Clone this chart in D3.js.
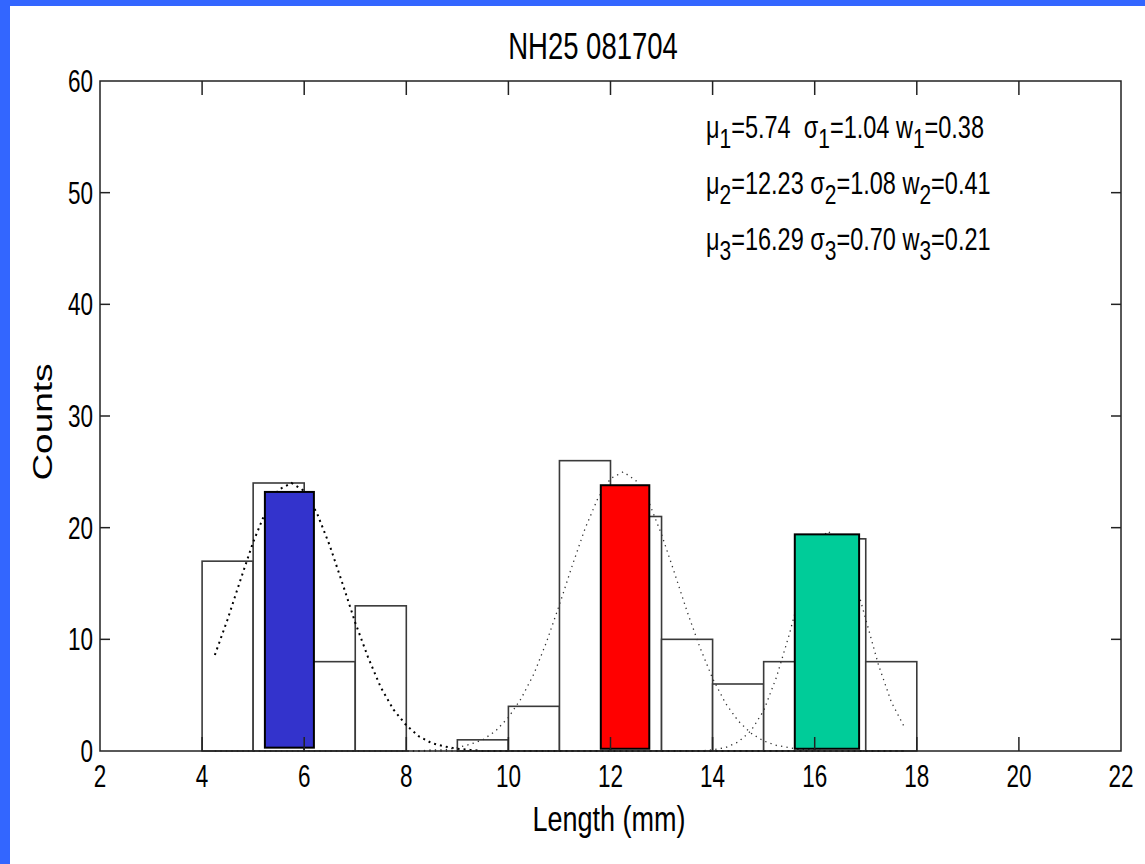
<!DOCTYPE html>
<html>
<head>
<meta charset="utf-8">
<script src="https://cdn.jsdelivr.net/npm/d3@7"></script>
<style>
  html, body { margin: 0; padding: 0; background: #fff; }
  svg { display: block; }
  text { font-family: "Liberation Sans", Arial, sans-serif; fill: #000; white-space: pre; }
</style>
</head>
<body>
<svg id="chart" width="1145" height="864"></svg>
<script>
// histogram of lengths
const binEdges = [4, 5, 6, 7, 8, 9, 10, 11, 12, 13, 14, 15, 16, 17, 18];
const counts = [17, 24, 8, 13, 0, 1, 4, 26, 21, 10, 6, 8, 19, 8];

// fitted component curves
const curveX = [4.25, 4.5, 4.75, 5, 5.25, 5.5, 5.75, 6, 6.25, 6.5, 6.75, 7, 7.25, 7.5, 7.75, 8,
  8.25, 8.5, 8.75, 9, 9.25, 9.5, 9.75, 10, 10.25, 10.5, 10.75, 11, 11.25, 11.5, 11.75, 12,
  12.25, 12.5, 12.75, 13, 13.25, 13.5, 13.75, 14, 14.25, 14.5, 14.75, 15, 15.25, 15.5, 15.75, 16,
  16.25, 16.5, 16.75, 17, 17.25, 17.5, 17.75];
const curve1 = [8.6, 11.8, 15.3, 18.7, 21.5, 23.4, 24.0, 23.3, 21.3, 18.4, 15.0, 11.5, 8.4, 5.7, 3.7, 2.3,
  1.3, 0.7, 0.4, 0.2, 0.1, 0, 0, 0, 0, 0, 0, 0, 0, 0, 0, 0,
  0, 0, 0, 0, 0, 0, 0, 0, 0, 0, 0, 0, 0, 0, 0, 0,
  0, 0, 0, 0, 0, 0, 0];
const curve2 = [0, 0, 0, 0, 0, 0, 0, 0, 0, 0, 0, 0, 0, 0, 0, 0,
  0, 0.1, 0.1, 0.3, 0.6, 1.0, 1.8, 3.0, 4.7, 6.9, 9.8, 13.1, 16.6, 19.9, 22.6, 24.4,
  25.0, 24.2, 22.3, 19.4, 16.0, 12.5, 9.3, 6.5, 4.3, 2.7, 1.6, 0.9, 0.5, 0.3, 0.1, 0.1,
  0, 0, 0, 0, 0, 0, 0];
const curve3 = [0, 0, 0, 0, 0, 0, 0, 0, 0, 0, 0, 0, 0, 0, 0, 0,
  0, 0, 0, 0, 0, 0, 0, 0, 0, 0, 0, 0, 0, 0, 0, 0,
  0, 0, 0, 0, 0, 0, 0, 0.1, 0.3, 0.8, 1.8, 3.6, 6.6, 10.4, 14.7, 18.1,
  19.7, 18.9, 15.9, 11.8, 7.7, 4.4, 2.2];

// component bars
const compLeft = [5.23, 11.81, 15.61];
const compRight = [6.19, 12.76, 16.87];
const compBase = [0.3, 0.2, 0.2];
const compTop = [23.2, 23.8, 19.4];

// fit parameters
const mus = ['5.74 ', '12.23', '16.29'];
const sigmas = ['1.04', '1.08', '0.70'];
const weights = ['0.38', '0.41', '0.21'];

const xTicks = [2, 4, 6, 8, 10, 12, 14, 16, 18, 20, 22];
const yTicks = [0, 10, 20, 30, 40, 50, 60];

const titleText = 'NH25 081704';
const xLabel = 'Length (mm)';
const yLabel = 'Counts';

const compColors = ['#3333cc', '#ff0000', '#00cc99'];

const svg = d3.select('#chart');
const plotLeft = 100;
const plotRight = 1121;
const plotTop = 81;
const plotBottom = 751;
const stretch = 1.37;

const x = d3.scaleLinear([2, 22], [plotLeft, plotRight]);
const y = d3.scaleLinear([0, 60], [plotBottom, plotTop]);

// blue slide frame
svg.append('rect').attr('x', 0).attr('y', 0).attr('width', 10).attr('height', 864).attr('fill', '#3366ff');
svg.append('rect').attr('x', 0).attr('y', 0).attr('width', 1145).attr('height', 6).attr('fill', '#3366ff');

// histogram bars
const bins = counts.map((c, i) => ({ x0: binEdges[i], x1: binEdges[i + 1], c }));
svg.append('g')
  .selectAll('rect')
  .data(bins.filter((d) => d.c > 0))
  .join('rect')
  .attr('x', (d) => x(d.x0))
  .attr('y', (d) => y(d.c))
  .attr('width', (d) => x(d.x1) - x(d.x0))
  .attr('height', (d) => y(0) - y(d.c))
  .attr('fill', '#fff')
  .attr('stroke', '#3a3a3a')
  .attr('stroke-width', 1.6);

// dotted component curves
const line = d3.line()
  .x((d) => x(d[0]))
  .y((d) => y(d[1]));
const curves = [curve1, curve2, curve3];
svg.append('g')
  .selectAll('path')
  .data(curves)
  .join('path')
  .attr('d', (vals) => line(vals.map((v, i) => [curveX[i], v])))
  .attr('fill', 'none')
  .attr('stroke', (d, i) => (i === 0 ? '#000' : '#333'))
  .attr('stroke-width', (d, i) => (i === 0 ? 2 : 1.3))
  .attr('stroke-dasharray', (d, i) => (i === 0 ? '2 4' : '1.3 4.2'));

// coloured component bars
svg.append('g')
  .selectAll('rect')
  .data(compLeft)
  .join('rect')
  .attr('x', (d) => x(d))
  .attr('y', (d, i) => y(compTop[i]))
  .attr('width', (d, i) => x(compRight[i]) - x(d))
  .attr('height', (d, i) => y(compBase[i]) - y(compTop[i]))
  .attr('fill', (d, i) => compColors[i])
  .attr('stroke', '#000')
  .attr('stroke-width', 2);

// axes box with inward ticks
const frame = svg.append('g').attr('stroke', '#222').attr('stroke-width', 1.5);
frame.append('rect')
  .attr('x', plotLeft).attr('y', plotTop)
  .attr('width', plotRight - plotLeft).attr('height', plotBottom - plotTop)
  .attr('fill', 'none');
frame.selectAll('line.xb')
  .data(xTicks.slice(1, -1))
  .join('line')
  .attr('class', 'xb')
  .attr('x1', (d) => x(d)).attr('x2', (d) => x(d))
  .attr('y1', plotBottom).attr('y2', plotBottom - 14);
frame.selectAll('line.xt')
  .data(xTicks.slice(1, -1))
  .join('line')
  .attr('class', 'xt')
  .attr('x1', (d) => x(d)).attr('x2', (d) => x(d))
  .attr('y1', plotTop).attr('y2', plotTop + 14);
frame.selectAll('line.yl')
  .data(yTicks.slice(1, -1))
  .join('line')
  .attr('class', 'yl')
  .attr('x1', plotLeft).attr('x2', plotLeft + 10)
  .attr('y1', (d) => y(d)).attr('y2', (d) => y(d));
frame.selectAll('line.yr')
  .data(yTicks.slice(1, -1))
  .join('line')
  .attr('class', 'yr')
  .attr('x1', plotRight).attr('x2', plotRight - 10)
  .attr('y1', (d) => y(d)).attr('y2', (d) => y(d));

// tick labels (the source image is stretched vertically)
svg.append('g')
  .selectAll('text')
  .data(yTicks)
  .join('text')
  .attr('transform', (d) => `translate(${plotLeft - 7},${y(d) + 11}) scale(1,${stretch})`)
  .attr('text-anchor', 'end')
  .attr('font-size', 22.5)
  .text((d) => d);
svg.append('g')
  .selectAll('text')
  .data(xTicks)
  .join('text')
  .attr('transform', (d) => `translate(${x(d)},${plotBottom + 36}) scale(1,${stretch})`)
  .attr('text-anchor', 'middle')
  .attr('font-size', 22.5)
  .text((d) => d);

// title and axis labels
svg.append('text')
  .attr('transform', 'translate(593,59) scale(1,1.32)')
  .attr('text-anchor', 'middle')
  .attr('font-size', 27.5)
  .text(titleText);
svg.append('text')
  .attr('transform', 'translate(609,831) scale(1,1.28)')
  .attr('text-anchor', 'middle')
  .attr('font-size', 27)
  .text(xLabel);
svg.append('text')
  .attr('transform', `translate(52,422) scale(1,${stretch}) rotate(-90)`)
  .attr('text-anchor', 'middle')
  .attr('font-size', 27)
  .text(yLabel);

// fit parameter annotation
const stats = svg.append('g');
mus.forEach((m, i) => {
  const t = stats.append('text')
    .attr('transform', `translate(706,${138 + i * 56}) scale(1,1.3)`)
    .attr('font-size', 23.5);
  const n = String(i + 1);
  const parts = [['\u03bc', false], [n, true], [`=${m} \u03c3`, false], [n, true],
    [`=${sigmas[i]} w`, false], [n, true], [`=${weights[i]}`, false]];
  parts.forEach(([s, sub]) => {
    t.append('tspan')
      .attr('dy', sub ? 7.5 : (s === '\u03bc' ? 0 : -7.5))
      .attr('font-size', sub ? 21 : 23.5)
      .text(s);
  });
});
</script>
</body>
</html>
